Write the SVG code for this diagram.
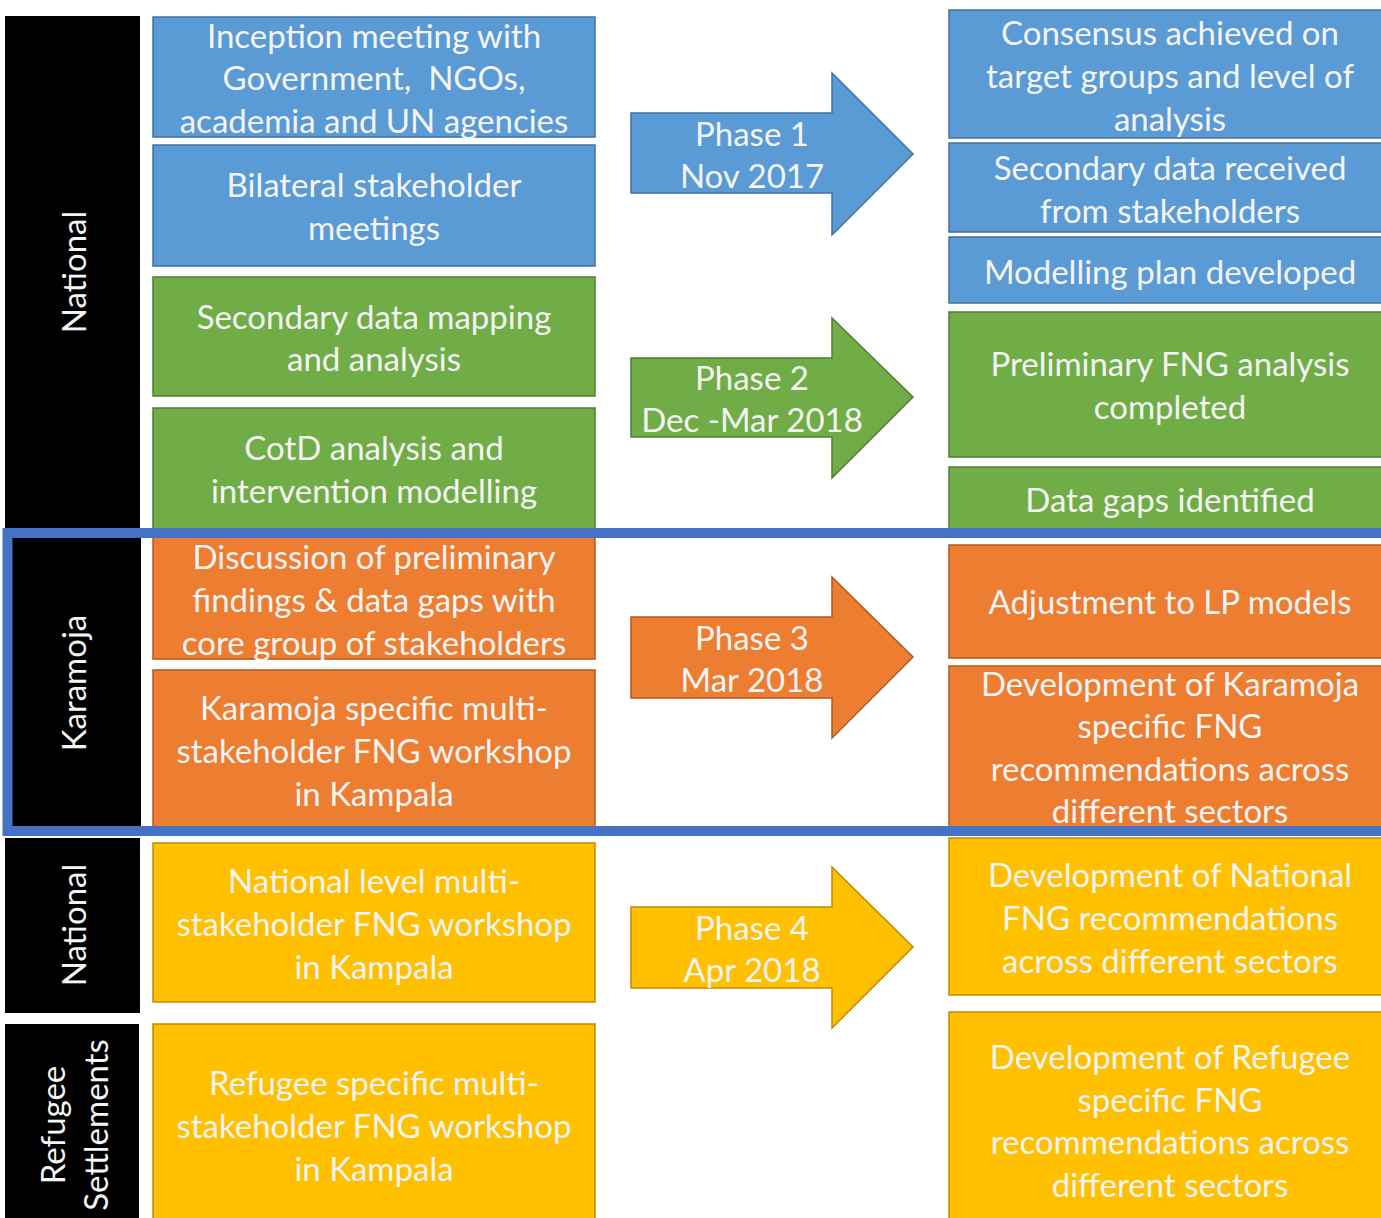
<svg xmlns="http://www.w3.org/2000/svg" width="1381" height="1218" viewBox="0 0 1381 1218">
<style>
text{font-family:Lato,"Open Sans","Liberation Sans",sans-serif;font-size:33px;fill:#F4F4F4;text-anchor:middle;dominant-baseline:central;white-space:pre}
.lbl{fill:#000}
.bl{fill:#5B9BD5;stroke:#41719C;stroke-width:1.5}
.gr{fill:#70AD47;stroke:#507E32;stroke-width:1.5}
.or{fill:#ED7D31;stroke:#AE5A21;stroke-width:1.5}
.ye{fill:#FFC000;stroke:#BC8C00;stroke-width:1.5}
</style>
<rect width="1381" height="1218" fill="#fff"/>
<g id="label-national-1"><rect class="lbl" x="5" y="16" width="135" height="520"/><text transform="translate(73 272) rotate(-90)">National</text></g>
<g id="label-karamoja"><rect class="lbl" x="10" y="538" width="131" height="290"/><text transform="translate(73 683) rotate(-90)">Karamoja</text></g>
<g id="label-national-2"><rect class="lbl" x="5" y="838" width="135" height="175"/><text transform="translate(73 925) rotate(-90)">National</text></g>
<g id="label-refugee"><rect class="lbl" x="5" y="1024" width="134" height="200"/><text transform="translate(52 1125) rotate(-90)">Refugee</text><text transform="translate(95 1125) rotate(-90)">Settlements</text></g>

<g id="l1"><rect class="bl" x="153" y="17" width="442" height="120"/><text x="374" y="35">Inception meeting with</text><text x="374" y="77" xml:space="preserve">Government,  NGOs,</text><text x="374" y="120">academia and UN agencies</text></g>
<g id="l2"><rect class="bl" x="153" y="145" width="442" height="121"/><text x="374" y="184">Bilateral stakeholder</text><text x="374" y="227">meetings</text></g>
<g id="l3"><rect class="gr" x="153" y="277" width="442" height="119"/><text x="374" y="316">Secondary data mapping</text><text x="374" y="358">and analysis</text></g>
<g id="l4"><rect class="gr" x="153" y="408" width="442" height="124"/><text x="374" y="447">CotD analysis and</text><text x="374" y="490">intervention modelling</text></g>
<g id="l5"><rect class="or" x="153" y="536" width="442" height="123"/><text x="374" y="556">Discussion of preliminary</text><text x="374" y="599">findings &amp; data gaps with</text><text x="374" y="642">core group of stakeholders</text></g>
<g id="l6"><rect class="or" x="153" y="670" width="442" height="160"/><text x="374" y="707">Karamoja specific multi-</text><text x="374" y="750">stakeholder FNG workshop</text><text x="374" y="793">in Kampala</text></g>
<g id="l7"><rect class="ye" x="153" y="843" width="442" height="159"/><text x="374" y="880">National level multi-</text><text x="374" y="923">stakeholder FNG workshop</text><text x="374" y="966">in Kampala</text></g>
<g id="l8"><rect class="ye" x="153" y="1024" width="442" height="200"/><text x="374" y="1082">Refugee specific multi-</text><text x="374" y="1125">stakeholder FNG workshop</text><text x="374" y="1168">in Kampala</text></g>

<g id="phase1"><polygon class="bl" points="631,113 832,113 832,73 913,154 832,235 832,193 631,193"/><text x="752" y="133">Phase 1</text><text x="752" y="175">Nov 2017</text></g>
<g id="phase2"><polygon class="gr" points="631,358 832,358 832,318 913,397 832,478 832,437 631,437"/><text x="752" y="377">Phase 2</text><text x="752" y="419">Dec -Mar 2018</text></g>
<g id="phase3"><polygon class="or" points="631,617 832,617 832,577 913,657 832,738 832,698 631,698"/><text x="752" y="637">Phase 3</text><text x="752" y="679">Mar 2018</text></g>
<g id="phase4"><polygon class="ye" points="631,907 832,907 832,867 913,947 832,1028 832,988 631,988"/><text x="752" y="927">Phase 4</text><text x="752" y="969">Apr 2018</text></g>

<g id="r1"><rect class="bl" x="949" y="10" width="440" height="128"/><text x="1170" y="32">Consensus achieved on</text><text x="1170" y="75">target groups and level of</text><text x="1170" y="118">analysis</text></g>
<g id="r2"><rect class="bl" x="949" y="143" width="440" height="89"/><text x="1170" y="167">Secondary data received</text><text x="1170" y="210">from stakeholders</text></g>
<g id="r3"><rect class="bl" x="949" y="237" width="440" height="66"/><text x="1170" y="271">Modelling plan developed</text></g>
<g id="r4"><rect class="gr" x="949" y="312" width="440" height="145"/><text x="1170" y="363">Preliminary FNG analysis</text><text x="1170" y="406">completed</text></g>
<g id="r5"><rect class="gr" x="949" y="467" width="440" height="65"/><text x="1170" y="499">Data gaps identified</text></g>
<g id="r6"><rect class="or" x="949" y="545" width="440" height="113"/><text x="1170" y="601">Adjustment to LP models</text></g>
<g id="r7"><rect class="or" x="949" y="666" width="440" height="164"/><text x="1170" y="683">Development of Karamoja</text><text x="1170" y="725">specific FNG</text><text x="1170" y="768">recommendations across</text><text x="1170" y="810">different sectors</text></g>
<g id="r8"><rect class="ye" x="949" y="838" width="440" height="157"/><text x="1170" y="874">Development of National</text><text x="1170" y="917">FNG recommendations</text><text x="1170" y="960">across different sectors</text></g>
<g id="r9"><rect class="ye" x="949" y="1012" width="440" height="212"/><text x="1170" y="1056">Development of Refugee</text><text x="1170" y="1099">specific FNG</text><text x="1170" y="1141">recommendations across</text><text x="1170" y="1184">different sectors</text></g>

<g id="karamoja-frame"><rect x="7.5" y="533" width="1390" height="298" fill="none" stroke="#4472C4" stroke-width="10"/></g>
</svg>
